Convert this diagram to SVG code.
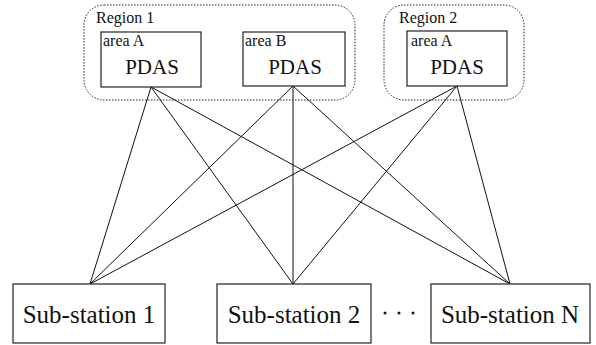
<svg xmlns="http://www.w3.org/2000/svg" width="596" height="345" viewBox="0 0 596 345">
  <style>
    .region { fill: none; stroke: #222; stroke-width: 1; stroke-dasharray: 1.5 1.5; }
    .box { fill: #fff; stroke: #222; stroke-width: 1.2; }
    .link { stroke: #111; stroke-width: 1; fill: none; }
    text { font-family: "Liberation Serif", "Times New Roman", serif; fill: #111; }
    .rlabel { font-size: 16px; }
    .alabel { font-size: 16px; }
    .pdas { font-size: 21px; text-anchor: middle; }
    .sub { font-size: 25px; text-anchor: middle; }
  </style>

  <!-- regions -->
  <rect class="region" x="84" y="5" width="271" height="95" rx="20" ry="20"/>
  <rect class="region" x="384" y="5" width="140" height="95" rx="20" ry="20"/>
  <text class="rlabel" x="96" y="23">Region 1</text>
  <text class="rlabel" x="399" y="23">Region 2</text>

  <!-- connectors -->
  <g id="connectors">
    <line class="link" x1="151" y1="87" x2="90" y2="284"/>
    <line class="link" x1="151" y1="87" x2="293" y2="284"/>
    <line class="link" x1="151" y1="87" x2="510" y2="284"/>
    <line class="link" x1="293" y1="86" x2="90" y2="284"/>
    <line class="link" x1="293" y1="86" x2="293" y2="284"/>
    <line class="link" x1="293" y1="86" x2="510" y2="284"/>
    <line class="link" x1="457" y1="86" x2="90" y2="284"/>
    <line class="link" x1="457" y1="86" x2="293" y2="284"/>
    <line class="link" x1="457" y1="86" x2="510" y2="284"/>
  </g>

  <g id="r1-areaA">
    <rect class="box" x="101" y="32" width="100" height="55"/>
    <text class="alabel" x="103" y="46">area A</text>
    <text class="pdas" x="152" y="74">PDAS</text>
  </g>
  <g id="r1-areaB">
    <rect class="box" x="243" y="32" width="102" height="54"/>
    <text class="alabel" x="245" y="46">area B</text>
    <text class="pdas" x="295" y="74">PDAS</text>
  </g>
  <g id="r2-areaA">
    <rect class="box" x="407" y="31" width="100" height="55"/>
    <text class="alabel" x="411" y="46">area A</text>
    <text class="pdas" x="457" y="74">PDAS</text>
  </g>

  <g id="sub1">
    <rect class="box" x="13" y="284" width="152" height="59"/>
    <text class="sub" x="89" y="323">Sub-station 1</text>
  </g>
  <g id="sub2">
    <rect class="box" x="217" y="284" width="154" height="59"/>
    <text class="sub" x="294" y="323">Sub-station 2</text>
  </g>
  <g id="subN">
    <rect class="box" x="431" y="284" width="159" height="59"/>
    <text class="sub" x="510" y="323">Sub-station N</text>
  </g>

  <!-- ellipsis -->
  <g id="ellipsis" fill="#111">
    <circle cx="385" cy="313" r="1.5"/>
    <circle cx="399" cy="313" r="1.5"/>
    <circle cx="413" cy="313" r="1.5"/>
  </g>
</svg>
